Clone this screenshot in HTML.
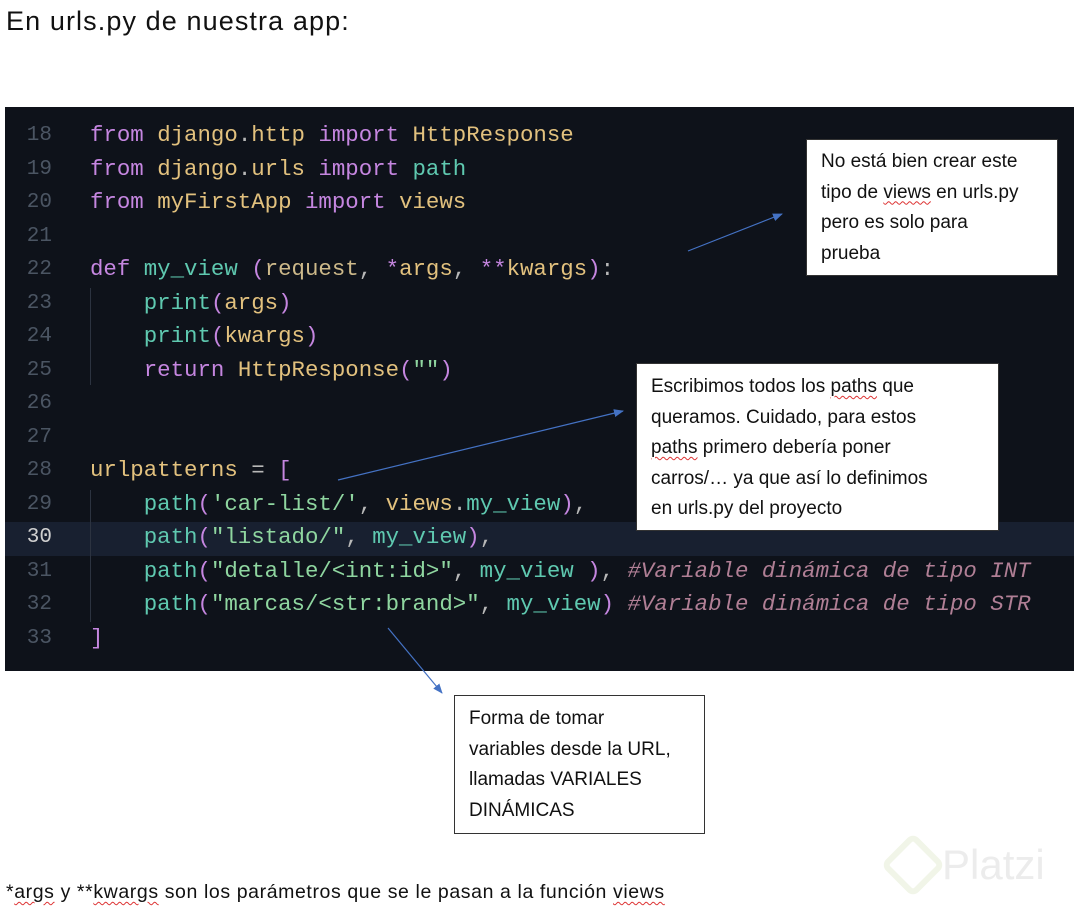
<!DOCTYPE html>
<html><head><meta charset="utf-8"><style>
body{margin:0;width:1074px;height:909px;background:#fff;position:relative;overflow:hidden;font-family:"Liberation Sans",sans-serif}
.t{position:absolute;color:#111;white-space:nowrap}
#code{position:absolute;left:5px;top:107px;width:1069px;height:564px;background:#0e121a}
.ln{position:absolute;left:12px;width:40px;text-align:right;color:#4b5563;font-family:"Liberation Mono",monospace;font-size:21px}
.cl{position:absolute;left:90px;white-space:pre;font-family:"Liberation Mono",monospace;font-size:22.4px;color:#d8c38a;letter-spacing:0}
.k{color:#c586e0}.y{color:#e2c17e}.g{color:#5fc9b0}.p{color:#c586e0}.w{color:#b8b8b8}.c{color:#b07f95;font-style:italic}.s{color:#8fd6a0}
.box{position:absolute;background:#fff;border:1px solid #333;font-size:19px;line-height:30.5px;color:#111;padding:0 14px;box-sizing:border-box;white-space:nowrap}
u{text-decoration:underline wavy #d33;text-decoration-thickness:1px;text-underline-offset:3px}
</style></head><body>
<div class="t" style="left:6px;top:6px;font-size:27px;letter-spacing:1.1px">En urls.py de nuestra app:</div>
<div id="code">
<div style="position:absolute;left:0;top:415px;width:1069px;height:34px;background:#182030"></div>
<div style="position:absolute;left:85px;top:181px;width:1px;height:97px;background:#2c3340"></div>
<div style="position:absolute;left:85px;top:383px;width:1px;height:132px;background:#2c3340"></div>
</div>
<div id="lines"></div>
<script>
var L=[
["18",'<span class="k">from</span> <span class="y">django</span><span class="w">.</span><span class="y">http</span> <span class="k">import</span> <span class="y">HttpResponse</span>'],
["19",'<span class="k">from</span> <span class="y">django</span><span class="w">.</span><span class="y">urls</span> <span class="k">import</span> <span class="g">path</span>'],
["20",'<span class="k">from</span> <span class="y">myFirstApp</span> <span class="k">import</span> <span class="y">views</span>'],
["21",''],
["22",'<span class="k">def</span> <span class="g">my_view</span> <span class="p">(</span><span class="y" style="color:#cdb98a">request</span><span class="w">,</span> <span class="k">*</span><span class="y">args</span><span class="w">,</span> <span class="k">**</span><span class="y">kwargs</span><span class="p">)</span><span class="w">:</span>'],
["23",'    <span class="g">print</span><span class="p">(</span><span class="y">args</span><span class="p">)</span>'],
["24",'    <span class="g">print</span><span class="p">(</span><span class="y">kwargs</span><span class="p">)</span>'],
["25",'    <span class="k">return</span> <span class="y">HttpResponse</span><span class="p">(</span><span class="s">""</span><span class="p">)</span>'],
["26",''],["27",''],
["28",'<span class="y">urlpatterns</span> <span class="w">=</span> <span class="p">[</span>'],
["29",'    <span class="g">path</span><span class="p">(</span><span class="s">\'car-list/\'</span><span class="w">,</span> <span class="y">views</span><span class="w">.</span><span class="g">my_view</span><span class="p">)</span><span class="w">,</span>'],
["30",'    <span class="g">path</span><span class="p">(</span><span class="s">"listado/"</span><span class="w">,</span> <span class="g">my_view</span><span class="p">)</span><span class="w">,</span>'],
["31",'    <span class="g">path</span><span class="p">(</span><span class="s">"detalle/&lt;int:id&gt;"</span><span class="w">,</span> <span class="g">my_view</span> <span class="p">)</span><span class="w">,</span> <span class="c">#Variable dinámica de tipo INT</span>'],
["32",'    <span class="g">path</span><span class="p">(</span><span class="s">"marcas/&lt;str:brand&gt;"</span><span class="w">,</span> <span class="g">my_view</span><span class="p">)</span> <span class="c">#Variable dinámica de tipo STR</span>'],
["33",'<span class="p">]</span>']];
var h='';L.forEach(function(r,i){var y=122+i*33.5;
h+='<div class="ln" style="top:'+(y+2)+'px'+(r[0]=="30"?';color:#d0d0d0':'')+'">'+r[0]+'</div><div class="cl" style="top:'+y+'px">'+r[1]+'</div>';});
document.getElementById('lines').innerHTML=h;
</script>
<div class="box" style="left:806px;top:139px;width:252px;height:137px;padding-top:7px">No está bien crear este<br>tipo de <u>views</u> en urls.py<br>pero es solo para<br>prueba</div>
<div class="box" style="left:636px;top:363px;width:363px;height:168px;padding-top:8px">Escribimos todos los <u>paths</u> que<br>queramos. Cuidado, para estos<br><u>paths</u> primero debería poner<br>carros/… ya que así lo definimos<br>en urls.py del proyecto</div>
<div class="box" style="left:454px;top:695px;width:251px;height:139px;padding-top:8px">Forma de tomar<br>variables desde la URL,<br>llamadas VARIALES<br>DINÁMICAS</div>
<svg style="position:absolute;left:0;top:0" width="1074" height="909">
<defs><marker id="a" markerWidth="10" markerHeight="8" refX="9" refY="4" orient="auto" markerUnits="userSpaceOnUse"><path d="M0,0L10,4L0,8z" fill="#4472c4"/></marker></defs>
<g stroke="#4472c4" stroke-width="1.2" fill="none">
<line x1="688" y1="251" x2="782" y2="214" marker-end="url(#a)"/>
<line x1="338" y1="480" x2="623" y2="411" marker-end="url(#a)"/>
<line x1="388" y1="628" x2="442" y2="693" marker-end="url(#a)"/>
</g></svg>
<div style="position:absolute;left:890px;top:842px;width:34px;height:34px;border:6px solid #f1f5e8;border-radius:8px;transform:rotate(45deg)"></div>
<div class="t" style="left:942px;top:841px;font-size:42px;color:#ececec">Platzi</div>
<div class="t" style="left:6px;top:881px;font-size:19.5px;letter-spacing:0.6px">*<u>args</u> y **<u>kwargs</u> son los parámetros que se le pasan a la función <u>views</u></div>
</body></html>
